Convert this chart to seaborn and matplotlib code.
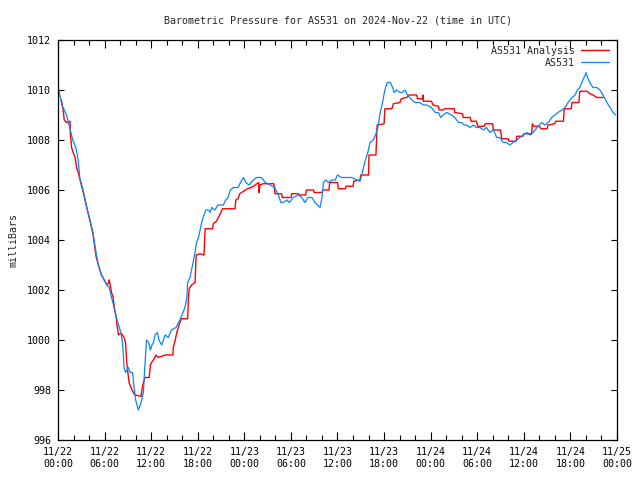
"""
Barometric pressure trace for AS531, gnuplot-like look.
"""

import matplotlib
matplotlib.use('Agg')
import matplotlib.pyplot as plt
import matplotlib.dates as mdates
import seaborn as sns
import pandas as pd

# hours after 2024-11-22 00:00 UTC and pressure (mbar)
blue_hours = [
    0.1, 0.5, 0.8, 1.1, 1.5, 1.9, 2.3, 2.6, 2.8, 3.3,
    3.7, 4.1, 4.5, 4.9, 5.2, 5.6, 6.3, 6.6, 6.9, 7.3,
    7.6, 7.9, 8.1, 8.3, 8.4, 8.5, 8.7, 9.06, 9.3, 9.6,
    9.8, 10.0, 10.35, 10.7, 11.0, 11.1, 11.3, 11.4, 11.7, 11.9,
    12.1, 12.3, 12.5, 12.8, 13.0, 13.35, 13.8, 14.2, 14.6, 15.2,
    15.7, 16.1, 16.35, 16.6, 16.7, 17.0, 17.2, 17.4, 17.65, 17.85,
    18.1, 18.3, 18.5, 18.7, 19.05, 19.4, 19.6, 19.8, 20.2, 20.6,
    21.3, 21.6, 21.9, 22.2, 22.6, 23.2, 23.5, 23.9, 24.2, 24.6,
    25.15, 25.6, 26.2, 26.7, 27.3, 27.9, 28.4, 28.7, 29.0, 29.5,
    29.8, 30.3, 30.95, 31.4, 31.8, 32.2, 32.7, 33.1, 33.75, 34.0,
    34.2, 34.5, 34.8, 35.25, 35.7, 36.0, 36.5, 37.2, 37.8, 38.5,
    38.9, 39.2, 39.5, 39.9, 40.2, 40.6, 40.9, 41.2, 41.5, 41.8,
    42.1, 42.4, 42.8, 43.1, 43.3, 43.6, 44.05, 44.3, 44.7, 45.0,
    45.3, 45.6, 46.0, 46.6, 47.05, 47.5, 48.1, 48.6, 49.0, 49.3,
    49.6, 50.05, 50.7, 51.1, 51.35, 51.6, 52.0, 52.3, 52.6, 53.1,
    53.5, 53.9, 54.35, 54.8, 55.2, 55.6, 56.1, 56.5, 56.9, 57.35,
    57.8, 58.2, 58.6, 59.1, 59.5, 59.9, 60.4, 60.8, 61.2, 61.7,
    62.3, 62.7, 63.15, 63.6, 64.0, 64.4, 64.9, 65.3, 65.7, 66.2,
    66.6, 66.9, 67.2, 67.6, 67.9, 68.0, 68.2, 68.5, 68.9, 69.4,
    69.8, 70.2, 70.7, 71.1, 71.5, 71.8,
]
blue_mbar = [
    1010.0, 1009.4, 1009.2, 1009.0, 1008.5, 1008.0, 1007.7, 1007.2, 1006.5, 1005.9,
    1005.3, 1004.8, 1004.3, 1003.5, 1003.0, 1002.6, 1002.2, 1002.1, 1001.7, 1001.2,
    1000.8, 1000.5, 1000.3, 999.9, 999.5, 998.9, 998.7, 998.9, 998.7, 998.7,
    998.1, 997.6, 997.2, 997.5, 997.9, 998.5, 999.5, 1000.0, 999.9, 999.6,
    999.8, 999.9, 1000.2, 1000.3, 1000.0, 999.8, 1000.2, 1000.1, 1000.4, 1000.5,
    1000.8, 1001.1, 1001.3, 1001.7, 1002.3, 1002.5, 1002.8, 1003.1, 1003.5, 1003.9,
    1004.1, 1004.4, 1004.7, 1004.9, 1005.2, 1005.2, 1005.1, 1005.3, 1005.2, 1005.4,
    1005.4, 1005.6, 1005.7, 1006.0, 1006.1, 1006.1, 1006.3, 1006.5, 1006.3, 1006.2,
    1006.4, 1006.5, 1006.5, 1006.3, 1006.2, 1006.1, 1005.8, 1005.5, 1005.5, 1005.6,
    1005.5, 1005.7, 1005.8, 1005.7, 1005.5, 1005.7, 1005.7, 1005.5, 1005.3, 1005.7,
    1006.3, 1006.4, 1006.3, 1006.4, 1006.4, 1006.6, 1006.5, 1006.5, 1006.5, 1006.4,
    1006.35, 1006.7, 1007.1, 1007.5, 1007.9, 1008.0, 1008.2, 1008.5, 1009.1, 1009.5,
    1010.0, 1010.3, 1010.3, 1010.1, 1009.9, 1010.0, 1009.9, 1009.9, 1010.0, 1009.8,
    1009.7, 1009.6, 1009.5, 1009.5, 1009.4, 1009.4, 1009.3, 1009.1, 1009.1, 1008.9,
    1009.0, 1009.1, 1009.0, 1008.9, 1008.8, 1008.7, 1008.7, 1008.6, 1008.6, 1008.5,
    1008.6, 1008.5, 1008.5, 1008.4, 1008.5, 1008.3, 1008.4, 1008.1, 1008.1, 1007.9,
    1007.9, 1007.8, 1007.9, 1008.0, 1008.1, 1008.2, 1008.3, 1008.2, 1008.3, 1008.5,
    1008.7, 1008.6, 1008.7, 1008.9, 1009.0, 1009.1, 1009.2, 1009.3, 1009.5, 1009.7,
    1009.8, 1010.0, 1010.1, 1010.4, 1010.6, 1010.7, 1010.5, 1010.3, 1010.1, 1010.1,
    1010.0, 1009.8, 1009.5, 1009.3, 1009.1, 1009.0,
]

red_hours = [
    0.4, 0.5, 0.7, 0.8, 1.1, 1.55, 1.6, 1.75, 1.95, 2.2,
    2.4, 2.6, 2.8, 3.3, 3.7, 4.1, 4.5, 4.9, 5.2, 5.6,
    6.3, 6.55, 6.6, 6.9, 7.1, 7.3, 7.5, 7.6, 7.8, 8.0,
    8.2, 8.5, 8.7, 8.85, 9.0, 9.15, 9.4, 9.7, 9.9, 10.7,
    10.85, 11.0, 11.2, 11.75, 11.9, 12.05, 12.4, 12.6, 12.9, 13.35,
    13.8, 14.8, 14.85, 15.1, 15.3, 15.5, 15.7, 15.9, 16.7, 16.8,
    16.9, 17.2, 17.65, 17.8, 18.3, 18.8, 18.95, 19.9, 20.0, 20.4,
    20.65, 20.9, 21.2, 21.9, 22.8, 22.9, 23.2, 23.4, 23.9, 24.4,
    24.9, 25.2, 25.6, 25.85, 25.9, 26.0, 26.4, 27.8, 27.95, 28.8,
    28.9, 30.0, 30.1, 30.95, 31.1, 31.9, 32.0, 32.9, 33.0, 34.0,
    34.1, 34.9, 35.0, 36.0, 36.1, 37.0, 37.1, 38.0, 38.1, 38.9,
    39.0, 40.0, 40.05, 40.95, 41.1, 42.0, 42.1, 43.0, 43.2, 44.05,
    44.2, 44.9, 45.2, 46.2, 46.3, 46.95, 47.0, 47.05, 48.1, 48.3,
    49.0, 49.1, 49.6, 49.75, 51.05, 51.1, 52.1, 52.2, 53.1, 53.2,
    53.9, 54.05, 54.9, 55.0, 56.0, 56.05, 57.0, 57.15, 58.0, 58.1,
    59.0, 59.1, 59.9, 60.0, 61.0, 61.1, 61.3, 62.0, 62.2, 63.0,
    63.1, 64.0, 64.1, 65.1, 65.2, 66.1, 66.2, 67.1, 67.2, 68.1,
    68.5, 68.9, 69.4, 70.2,
]
red_mbar = [
    1009.6, 1009.5, 1009.1, 1008.8, 1008.7, 1008.75, 1008.2, 1007.7, 1007.5, 1007.3,
    1006.9, 1006.7, 1006.45, 1005.85, 1005.3, 1004.8, 1004.25, 1003.35, 1003.0, 1002.6,
    1002.2, 1002.3, 1002.4, 1001.9, 1001.7, 1001.2, 1000.9, 1000.6, 1000.2, 1000.25,
    1000.25, 1000.1, 999.9, 999.1, 998.7, 998.3, 998.1, 997.9, 997.8, 997.75,
    998.1, 998.3, 998.5, 998.5, 999.0, 999.1, 999.25, 999.4, 999.3, 999.35,
    999.4, 999.4, 999.7, 1000.0, 1000.3, 1000.5, 1000.7, 1000.85, 1000.85, 1001.7,
    1002.05, 1002.2, 1002.3, 1003.4, 1003.45, 1003.4, 1004.45, 1004.45, 1004.65, 1004.75,
    1004.9, 1005.05, 1005.25, 1005.25, 1005.25, 1005.6, 1005.65, 1005.85, 1005.95, 1006.05,
    1006.1, 1006.15, 1006.25, 1006.3, 1005.9, 1006.2, 1006.25, 1006.25, 1005.85, 1005.85,
    1005.7, 1005.7, 1005.85, 1005.85, 1005.8, 1005.8, 1006.0, 1006.0, 1005.9, 1005.9,
    1006.0, 1006.0, 1006.3, 1006.3, 1006.05, 1006.05, 1006.15, 1006.15, 1006.35, 1006.4,
    1006.6, 1006.6, 1007.4, 1007.4, 1008.6, 1008.65, 1009.25, 1009.25, 1009.45, 1009.5,
    1009.65, 1009.7, 1009.8, 1009.8, 1009.65, 1009.65, 1009.8, 1009.55, 1009.55, 1009.4,
    1009.35, 1009.2, 1009.2, 1009.25, 1009.25, 1009.1, 1009.05, 1008.9, 1008.9, 1008.75,
    1008.75, 1008.55, 1008.55, 1008.65, 1008.65, 1008.4, 1008.4, 1008.05, 1008.05, 1007.95,
    1007.95, 1008.15, 1008.15, 1008.25, 1008.25, 1008.65, 1008.55, 1008.55, 1008.45, 1008.45,
    1008.6, 1008.65, 1008.75, 1008.75, 1009.25, 1009.25, 1009.5, 1009.5, 1009.95, 1009.95,
    1009.85, 1009.8, 1009.7, 1009.7,
]

start = pd.Timestamp('2024-11-22 00:00')
end = pd.Timestamp('2024-11-25 00:00')

red_df = pd.DataFrame({'time': start + pd.to_timedelta(red_hours, unit='h'), 'mbar': red_mbar})
blue_df = pd.DataFrame({'time': start + pd.to_timedelta(blue_hours, unit='h'), 'mbar': blue_mbar})

sns.set_style('ticks')
plt.rcParams['font.family'] = ['DejaVu Sans Mono']

fig = plt.figure(figsize=(6.4, 4.8), dpi=100)
ax = fig.add_axes([58 / 640, 40 / 480, 559 / 640, 400 / 480])

sns.lineplot(data=red_df, x='time', y='mbar', ax=ax, color='#ff0000', linewidth=1.0,
             sort=False, estimator=None, label='AS531 Analysis')
sns.lineplot(data=blue_df, x='time', y='mbar', ax=ax, color='#0a84ff', linewidth=0.9,
             sort=False, estimator=None, label='AS531')

ax.set_xlim(start, end)
ax.set_ylim(996, 1012)
ax.set_yticks(range(996, 1013, 2))
ax.xaxis.set_major_locator(mdates.HourLocator(byhour=range(0, 24, 6)))
ax.xaxis.set_minor_locator(mdates.HourLocator(byhour=range(0, 24, 2)))
ax.xaxis.set_major_formatter(mdates.DateFormatter('%m/%d\n%H:%M'))

ax.tick_params(axis='both', which='both', direction='in', top=True, right=True,
               labelsize=7.2, colors='black', width=0.8)
ax.tick_params(axis='x', which='major', length=6, pad=5)
ax.tick_params(axis='x', which='minor', length=3.5)
ax.tick_params(axis='y', which='major', length=4, pad=5)
for spine in ax.spines.values():
    spine.set_visible(True)
    spine.set_color('black')
    spine.set_linewidth(0.9)

ax.set_xlabel('')
ax.set_ylabel('milliBars', fontsize=7.2, labelpad=6)
ax.set_title('Barometric Pressure for AS531 on 2024-Nov-22 (time in UTC)', fontsize=7.2, pad=12)

ax.legend(loc='upper right', bbox_to_anchor=(1 - 6 / 559, 1 - 4 / 400), frameon=False,
          markerfirst=False, fontsize=7.2, handlelength=2.8, handletextpad=0.6,
          labelspacing=0.2, borderaxespad=0.0, borderpad=0.2)

fig.savefig('out.png', dpi=100)
